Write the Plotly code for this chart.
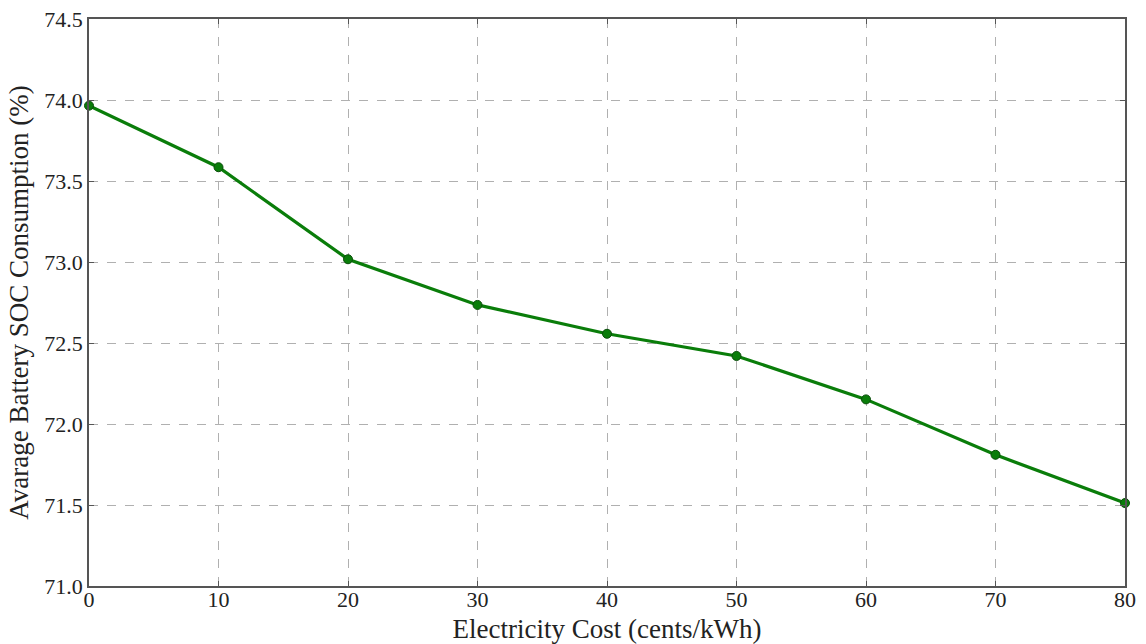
import plotly.graph_objects as go

# Electricity cost (cents/kWh) vs. average battery SOC consumption (%)
cost = [0, 10, 20, 30, 40, 50, 60, 70, 80]
soc_consumption = [73.965, 73.585, 73.017, 72.735, 72.557, 72.42, 72.152, 71.81, 71.512]

y_ticks = [71.0, 71.5, 72.0, 72.5, 73.0, 73.5, 74.0, 74.5]
x_ticks = [0, 10, 20, 30, 40, 50, 60, 70, 80]

font_family = "Liberation Serif"

fig = go.Figure()
fig.add_trace(go.Scatter(
    x=cost,
    y=soc_consumption,
    mode="lines+markers",
    line=dict(color="#0a7d0a", width=3.2),
    marker=dict(size=9, color="#0a7d0a", line=dict(color="#0b4d0b", width=1)),
    cliponaxis=False,
    showlegend=False,
))

axis_common = dict(
    showline=True,
    linecolor="#555555",
    linewidth=1.5,
    mirror="allticks",
    ticks="inside",
    ticklen=5,
    tickcolor="#555555",
    showgrid=True,
    gridcolor="#b0b0b0",
    griddash="dash",
    gridwidth=1,
    zeroline=False,
    automargin=False,
    tickfont=dict(family=font_family, size=22, color="#222222"),
)

fig.update_xaxes(
    range=[0, 80],
    tickvals=x_ticks,
    ticktext=[str(v) for v in x_ticks],
    ticklabelstandoff=-7,
    title=dict(text="Electricity Cost (cents/kWh)", font=dict(family=font_family, size=27, color="#222222"), standoff=8),
    **axis_common,
)
fig.update_yaxes(
    range=[71.0, 74.5],
    tickvals=y_ticks,
    ticktext=[f"{v:.1f}" for v in y_ticks],
    ticklabelstandoff=0,
    title=dict(text="Avarage Battery SOC Consumption (%)", font=dict(family=font_family, size=27, color="#222222"), standoff=8),
    **axis_common,
)

fig.update_layout(
    width=1146,
    height=644,
    margin=dict(l=89, r=21, t=19, b=58),
    plot_bgcolor="white",
    paper_bgcolor="white",
)

fig.write_html("out.html")
